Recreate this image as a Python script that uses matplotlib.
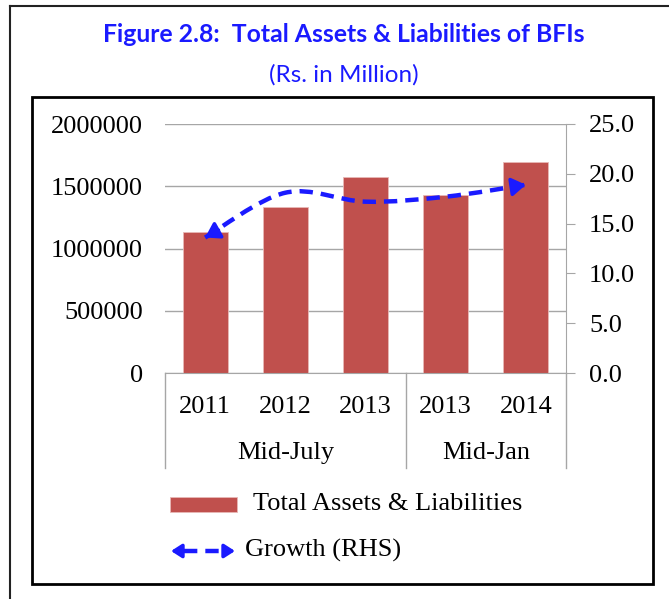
import numpy as np
import matplotlib.pyplot as plt
from matplotlib.path import Path
from matplotlib.patches import PathPatch, Rectangle, FancyArrowPatch
from matplotlib.lines import Line2D
from matplotlib.ticker import FuncFormatter

# data
years = ['2011', '2012', '2013', '2013', '2014']
groups = ['Mid-July', 'Mid-Jan']
group_sizes = [3, 2]
assets = [1133000, 1333000, 1574000, 1430000, 1695000]
growth = [13.6, 18.1, 17.2, 17.7, 18.9]

W, H = 669, 599
bar_color = '#C0504D'
line_color = '#1A1AFF'
grid_color = '#A6A6A6'
serif = 'Liberation Serif'
fs = 19

fig = plt.figure(figsize=(W / 100, H / 100), dpi=100)

def fx(px):
    return px / W

def fy(py):
    return 1 - py / H

# outer frame (top and left edge visible) and inner chart box
fig.add_artist(Line2D([fx(10), 1], [fy(6), fy(6)], color='#222222', lw=1.5))
fig.add_artist(Line2D([fx(10), fx(10)], [fy(6), 0], color='#222222', lw=1.5))
fig.add_artist(Rectangle((fx(32), fy(584)), fx(653) - fx(32), fy(97) - fy(584),
                         fill=False, ec='black', lw=2, transform=fig.transFigure))

fig.text(fx(344), fy(35), 'Figure 2.8:  Total Assets & Liabilities of BFIs',
         ha='center', va='center', color=line_color, fontsize=17.8,
         fontweight='bold', family='Lato')
fig.text(fx(344), fy(75), '(Rs. in Million)', ha='center', va='center',
         color=line_color, fontsize=17.5, family='Lato')

L, R, T, B = 165, 566, 124, 373
ax = fig.add_axes([fx(L), fy(B), fx(R) - fx(L), fy(T) - fy(B)])
x = np.arange(len(years))
ax.bar(x, assets, width=0.56, color=bar_color, edgecolor='#E8B8B6', lw=0.6, zorder=2)
ax.set_xlim(-0.5, len(years) - 0.5)
ax.set_ylim(0, 2000000)
ax.set_yticks(np.arange(0, 2000001, 500000))
ax.yaxis.set_major_formatter(FuncFormatter(lambda v, p: f'{v:.0f}'))
ax.yaxis.grid(True, color=grid_color, lw=1, zorder=0)
ax.set_axisbelow(True)
for s in ['top', 'left', 'right']:
    ax.spines[s].set_visible(False)
ax.spines['bottom'].set_color(grid_color)
ax.spines['bottom'].set_zorder(3)
ax.tick_params(axis='y', length=0, pad=16, labelsize=fs, labelfontfamily=serif)
ax.set_xticks([])

# category labels, two levels
tr = ax.get_xaxis_transform()
for xi, yr in zip(x, years):
    ax.text(xi, -0.137, yr, transform=tr, ha='center', va='center',
            fontsize=fs, family=serif)
start = 0
bounds = [-0.5]
for g, n in zip(groups, group_sizes):
    ax.text(start + (n - 1) / 2, -0.322, g, transform=tr, ha='center', va='center',
            fontsize=fs, family=serif)
    start += n
    bounds.append(start - 0.5)
for b in bounds:
    ax.plot([b, b], [0, -0.382], transform=tr, color=grid_color, lw=1, clip_on=False)

# growth on right axis, smoothed line
ax2 = ax.twinx()
ax2.set_ylim(0, 25)
ax2.set_yticks(np.arange(0, 25.1, 5))
ax2.set_yticklabels([f'{v:.1f}' for v in np.arange(0, 25.1, 5)])
for s in ['top', 'left', 'bottom']:
    ax2.spines[s].set_visible(False)
ax2.spines['right'].set_color(grid_color)
ax2.tick_params(axis='y', direction='out', length=6.5, color=grid_color, pad=10,
                labelsize=fs, labelfontfamily=serif)

P = np.column_stack([x, growth]).astype(float)
Pext = np.vstack([P[0], P, P[-1]])
verts = [P[0]]
codes = [Path.MOVETO]
for i in range(len(P) - 1):
    p0, p1, p2, p3 = Pext[i], Pext[i + 1], Pext[i + 2], Pext[i + 3]
    verts += [p1 + (p2 - p0) / 6, p2 - (p3 - p1) / 6, p2]
    codes += [Path.CURVE4] * 3
ax2.add_patch(PathPatch(Path(verts, codes), fill=False, ec=line_color, lw=3.2,
                        ls=(0, (3, 1.8)), capstyle='butt', zorder=4))

head = dict(arrowstyle='-|>,head_length=0.7,head_width=0.45', color=line_color,
            lw=2.5, shrinkA=0, shrinkB=0, mutation_scale=12)
ax2.annotate('', xy=P[0], xytext=verts[1], arrowprops=head, zorder=5)
ax2.annotate('', xy=P[-1], xytext=verts[-2], arrowprops=head, zorder=5)

# legend
fig.add_artist(Rectangle((fx(170), fy(512)), fx(237) - fx(170), fy(497) - fy(512),
                         fc=bar_color, ec='#E8B8B6', lw=0.6, transform=fig.transFigure))
fig.text(fx(253), fy(504), 'Total Assets & Liabilities', ha='left', va='center',
         fontsize=fs, family=serif)
fig.add_artist(Line2D([fx(184), fx(222)], [fy(551), fy(551)], color=line_color,
                      lw=3.2, ls=(0, (3, 1.8))))
small = dict(head, mutation_scale=9)
for a, b in [(fx(182), fx(171)), (fx(224), fx(235))]:
    fig.add_artist(FancyArrowPatch((a, fy(551)), (b, fy(551)), transform=fig.transFigure,
                                   **small))
fig.text(fx(245), fy(550), 'Growth (RHS)', ha='left', va='center',
         fontsize=fs, family=serif)

fig.savefig('out.png', dpi=100)
